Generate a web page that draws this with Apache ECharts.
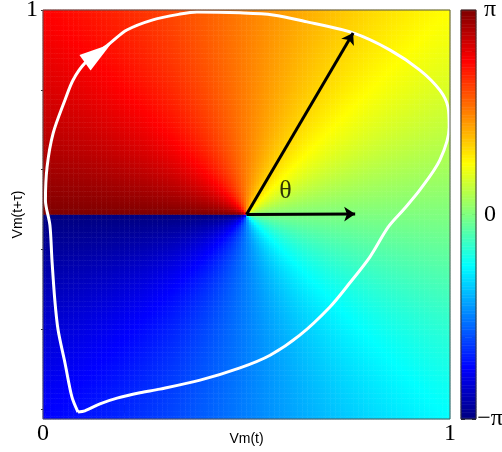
<!DOCTYPE html>
<html>
<head>
<meta charset="utf-8">
<script src="https://cdn.jsdelivr.net/npm/echarts@6/dist/echarts.min.js"></script>
<style>
  html, body { margin: 0; padding: 0; background: #fff; }
  #chart { width: 502px; height: 452px; }
</style>
</head>
<body>
<div id="chart"></div>
<script>
// limit cycle, clockwise from its lowest point
const trajX = [0.086, 0.071, 0.054, 0.037, 0.029, 0.022, 0.017, 0.006, 0.010, 0.025, 0.054, 0.074,
  0.103, 0.165, 0.206, 0.270, 0.337, 0.378, 0.484, 0.565, 0.649, 0.762, 0.853, 0.926, 0.975,
  0.995, 0.998, 0.975, 0.926, 0.885, 0.848, 0.803, 0.754, 0.705, 0.631, 0.558, 0.484, 0.386,
  0.287, 0.238, 0.182, 0.140, 0.103, 0.086];
const trajY = [0.017, 0.054, 0.137, 0.218, 0.291, 0.389, 0.474, 0.535, 0.616, 0.699, 0.780, 0.829,
  0.870, 0.919, 0.951, 0.976, 0.990, 0.995, 0.993, 0.988, 0.971, 0.944, 0.902, 0.853, 0.804,
  0.763, 0.714, 0.633, 0.560, 0.511, 0.469, 0.396, 0.333, 0.274, 0.205, 0.156, 0.125, 0.095,
  0.073, 0.064, 0.051, 0.037, 0.020, 0.017];

// phase origin and the two black vectors (reference axis and state)
const phaseOrigin = [0.5, 0.5];
const vectorEnds = [[0.767, 0.501], [0.762, 0.944]];
const flowHead = [0.135, 0.894];
const thetaAt = [0.596, 0.556];

const xTickLabels = ['0', '1'];
const yTickLabels = ['', '1'];
const minorTicks = [0, 0.2, 0.4, 0.6, 0.8, 1.0];
const barLabels = { '-1': '\u2212\u03c0', '0': '0', '1': '\u03c0' };

const FIELD_N = 160;
const BAR_N = 256;

// phase angle of each field cell, measured round the origin
const fieldCells = [];
const fieldCats = [];
for (let i = 0; i < FIELD_N; i++) fieldCats.push(i);
for (let i = 0; i < FIELD_N; i++) {
  for (let j = 0; j < FIELD_N; j++) {
    const x = (i + 0.5) / FIELD_N, y = (j + 0.5) / FIELD_N;
    fieldCells.push([i, j, Math.atan2(y - phaseOrigin[1], x - phaseOrigin[0])]);
  }
}
const barCells = [];
const barCats = [];
for (let k = 0; k < BAR_N; k++) {
  barCats.push(k);
  barCells.push([0, k, -Math.PI + (k + 0.5) * 2 * Math.PI / BAR_N]);
}

const jet = ['#00007f', '#0000ff', '#007fff', '#00ffff', '#7fff7f', '#ffff00', '#ff7f00', '#ff0000', '#7f0000'];

const serif = '"Liberation Serif", "DejaVu Serif", serif';
const sans = 'Liberation Sans';
const plotRect = { left: 43, top: 10, width: 407, height: 409, outerBoundsMode: 'none', containLabel: false };
const barRect = { left: 461, top: 10, width: 15, height: 409, outerBoundsMode: 'none', containLabel: false };

const hiddenCat = (data, gridIndex) => ({
  type: 'category', data, gridIndex, show: false, boundaryGap: true
});
const tickAxis = (gridIndex, position, min, max) => ({
  type: 'value', gridIndex, position, min, max,
  axisLine: { show: false },
  axisLabel: { show: false },
  splitLine: { show: false },
  axisTick: { show: true, inside: true, length: 4, customValues: minorTicks, lineStyle: { color: '#333', width: 1 } }
});
const barTickAxis = (position, withLabels) => ({
  type: 'value', gridIndex: 4, position,
  min: -Math.PI, max: Math.PI, interval: Math.PI / 5,
  axisLine: { show: false },
  splitLine: { show: false },
  axisTick: { show: true, inside: true, length: 4, lineStyle: { color: '#222', width: 1 } },
  axisLabel: {
    show: withLabels, margin: 14, align: 'center',
    fontFamily: serif, fontSize: 24, color: '#000',
    formatter: v => {
      const r = Math.round(v / Math.PI * 1000) / 1000;
      return barLabels[String(r)] || '';
    }
  }
});

const chart = echarts.init(document.getElementById('chart'));
chart.setOption({
  animation: false,
  backgroundColor: '#fff',
  grid: [
    { ...plotRect },
    { ...plotRect, show: true, z: 10, backgroundColor: 'transparent', borderColor: '#555', borderWidth: 1 },
    { ...plotRect },
    { ...barRect, show: true, z: 10, backgroundColor: 'transparent', borderColor: '#333', borderWidth: 1 },
    { ...barRect }
  ],
  xAxis: [
    hiddenCat(fieldCats, 0),
    {
      type: 'value', gridIndex: 1, min: 0, max: 1, interval: 1,
      axisLine: { show: false }, axisTick: { show: false }, splitLine: { show: false },
      axisLabel: { margin: 3, fontFamily: serif, fontSize: 24, color: '#000',
        formatter: v => xTickLabels[Math.round(v)] },
      name: 'Vm(t)', nameLocation: 'middle', nameGap: 13, nameMoveOverlap: false,
      nameTextStyle: { fontFamily: sans, fontSize: 14, color: '#000' }
    },
    tickAxis(2, 'bottom', -0.005, 1.025),
    tickAxis(2, 'top', -0.005, 1.025),
    hiddenCat(['c'], 3),
    { type: 'value', gridIndex: 4, show: false, min: 0, max: 1 }
  ],
  yAxis: [
    hiddenCat(fieldCats, 0),
    {
      type: 'value', gridIndex: 1, min: 0, max: 1, interval: 1,
      axisLine: { show: false }, axisTick: { show: false }, splitLine: { show: false },
      axisLabel: { margin: 5, fontFamily: serif, fontSize: 24, color: '#000',
        formatter: v => yTickLabels[Math.round(v)] },
      name: 'Vm(t+\u03c4)', nameLocation: 'middle', nameGap: 18, nameRotate: 90, nameMoveOverlap: false,
      nameTextStyle: { fontFamily: sans, fontSize: 14, color: '#000' }
    },
    tickAxis(2, 'left', -0.025, 1.0),
    tickAxis(2, 'right', -0.025, 1.0),
    hiddenCat(barCats, 3),
    barTickAxis('left', false),
    barTickAxis('right', true)
  ],
  visualMap: {
    type: 'continuous', show: false, seriesIndex: [0, 1],
    min: -Math.PI, max: Math.PI, inRange: { color: jet }
  },
  series: [
    {
      type: 'heatmap', xAxisIndex: 0, yAxisIndex: 0, data: fieldCells,
      progressive: 0, emphasis: { disabled: true }
    },
    {
      type: 'heatmap', xAxisIndex: 4, yAxisIndex: 4, data: barCells,
      progressive: 0, emphasis: { disabled: true }
    },
    {
      type: 'line', xAxisIndex: 1, yAxisIndex: 1, z: 5,
      data: trajX.map((x, i) => [x, trajY[i]]),
      smooth: 0.3, showSymbol: false, symbol: 'none',
      lineStyle: { color: '#fff', width: 3 }
    },
    {
      type: 'lines', coordinateSystem: 'cartesian2d', xAxisIndex: 1, yAxisIndex: 1, z: 6,
      symbol: ['none', 'arrow'], symbolSize: 11,
      lineStyle: { color: '#000', width: 3, opacity: 1 },
      data: vectorEnds.map(e => ({ coords: [phaseOrigin, e] }))
    },
    {
      type: 'scatter', xAxisIndex: 1, yAxisIndex: 1, z: 7,
      data: [flowHead], symbol: 'triangle', symbolSize: [19, 32], symbolRotate: -54,
      itemStyle: { color: '#fff', opacity: 1 }
    },
    {
      type: 'scatter', xAxisIndex: 1, yAxisIndex: 1, z: 7,
      data: [thetaAt], symbolSize: 0,
      label: { show: true, position: 'inside', formatter: '\u03b8',
        fontFamily: serif, fontSize: 26, color: '#000' }
    }
  ]
});
</script>
</body>
</html>
